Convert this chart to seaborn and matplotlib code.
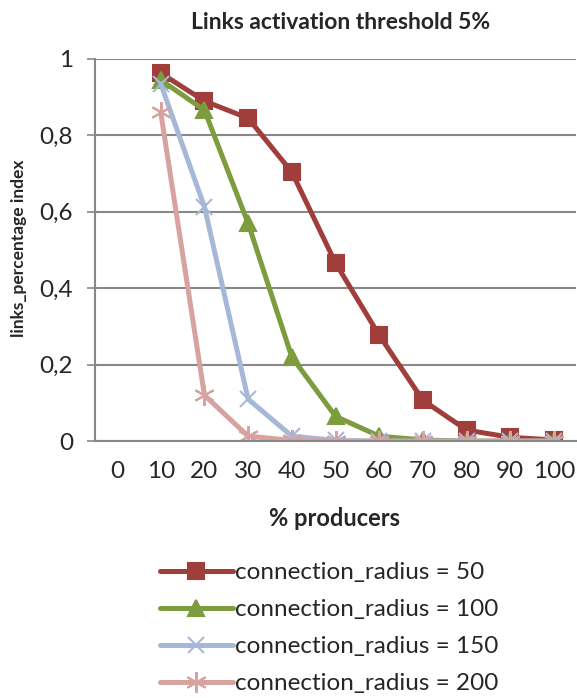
import pandas as pd
import matplotlib.pyplot as plt
import seaborn as sns
from matplotlib.ticker import FixedLocator, FuncFormatter

# Data
producers = [10, 20, 30, 40, 50, 60, 70, 80, 90, 100]
x_ticks = [0, 10, 20, 30, 40, 50, 60, 70, 80, 90, 100]
radius_50 = [0.963, 0.89, 0.845, 0.704, 0.466, 0.277, 0.107, 0.029, 0.01, 0.003]
radius_100 = [0.945, 0.866, 0.57, 0.22, 0.065, 0.013, 0.003, 0.0, 0.0, 0.0]
radius_150 = [0.935, 0.613, 0.11, 0.013, 0.002, 0.0, 0.0, 0.0, 0.0, 0.0]
radius_200 = [0.86, 0.12, 0.013, 0.002, 0.0, 0.0, 0.0, 0.0, 0.0, 0.0]

series = [
    ("connection_radius = 50", radius_50, "#A03E3B", "s", 12),
    ("connection_radius = 100", radius_100, "#7C9C3E", "^", 12),
    ("connection_radius = 150", radius_150, "#A6B8D8", "x", 11),
    ("connection_radius = 200", radius_200, "#D8A2A1", (6, 2, 0), 15),
]

sns.set_style("white")
plt.rcParams['font.family'] = ['Lato', 'DejaVu Sans']

fig = plt.figure(figsize=(5.77, 6.98), dpi=100)
ax = fig.add_axes([0.165, 0.368, 0.833, 0.5475])

for label, vals, color, marker, ms in series:
    df = pd.DataFrame({'producers': producers, 'value': vals})
    sns.lineplot(data=df, x='producers', y='value', ax=ax, color=color,
                 marker=marker, markersize=ms, linewidth=3.6,
                 markeredgecolor=color, markeredgewidth=1.5, label=label)

ax.set_xlim(-5, 105)
ax.set_ylim(0, 1)
ax.set_xticks(x_ticks)
ax.xaxis.set_minor_locator(FixedLocator([x + 5 for x in range(-10, 100, 10)]))
ax.tick_params(axis='x', which='major', length=0, labelsize=17.5, pad=14)
ax.tick_params(axis='x', which='minor', length=6, width=1.2, color='#888888', direction='out')
ax.set_yticks([0, 0.2, 0.4, 0.6, 0.8, 1.0])
ax.yaxis.set_major_formatter(FuncFormatter(lambda v, p: ('%g' % round(v, 1)).replace('.', ',')))
ax.tick_params(axis='y', length=6, width=1.2, color='#888888', direction='out',
               labelsize=17.5, left=True, pad=10)
ax.yaxis.grid(True, color='#888888', linewidth=1.5)
ax.set_axisbelow(True)

for s in ['top', 'right']:
    ax.spines[s].set_visible(False)
for s in ['left', 'bottom']:
    ax.spines[s].set_color('#888888')
    ax.spines[s].set_linewidth(1.5)

ax.set_xlabel('% producers', fontsize=17, fontweight='bold')
ax.xaxis.set_label_coords(0.498, -0.172)
ax.set_ylabel('links_percentage index', fontsize=12.5, fontweight='bold')
ax.yaxis.set_label_coords(-0.142, 0.505)
fig.text(0.591, 0.968, 'Links activation threshold 5%', ha='center', va='center',
         fontsize=16.5, fontweight='bold')

handles, labels = ax.get_legend_handles_labels()
ax.get_legend().remove()
fig.legend(handles, labels, loc='upper left', bbox_to_anchor=(160 / 577, 1 - 562 / 698),
           frameon=False, fontsize=17.5, handlelength=3.0, handletextpad=0.1,
           labelspacing=0.66, borderpad=0, borderaxespad=0)

plt.savefig('out.png', dpi=100)
